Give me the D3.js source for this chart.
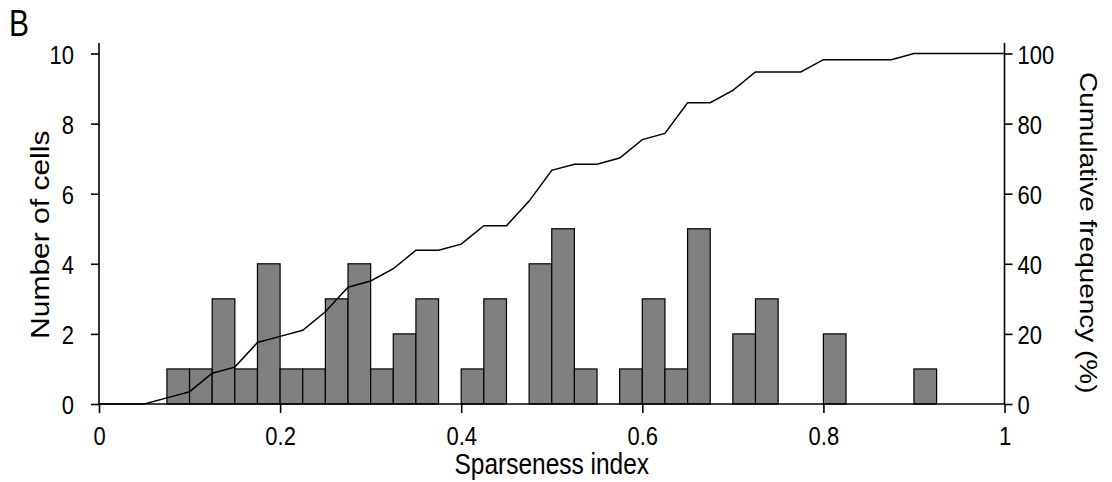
<!DOCTYPE html>
<html>
<head>
<meta charset="utf-8">
<script src="https://cdn.jsdelivr.net/npm/d3@7"></script>
<style>
  html, body { margin: 0; padding: 0; background: #fff; }
  svg { display: block; font-family: "Liberation Sans", Arial, sans-serif; }
</style>
</head>
<body>
<svg id="chart" width="1112" height="482"></svg>
<script>
// Histogram of sparseness index, bins of width 0.025 from 0 to 1
const binStarts = d3.range(0, 40).map(i => +(i * 0.025).toFixed(3));
const counts = [
  0, 0, 0, 1, 1, 3, 1, 4, 1, 1,   // 0.000 - 0.225
  3, 4, 1, 2, 3, 0, 1, 3, 0, 4,   // 0.250 - 0.475
  5, 1, 0, 1, 3, 1, 5, 0, 2, 3,   // 0.500 - 0.725
  0, 0, 2, 0, 0, 0, 1, 0, 0, 0    // 0.750 - 0.975
];
const binWidth = 0.025;
const xTicks = [0, 0.2, 0.4, 0.6, 0.8, 1];
const yLeftTicks = [0, 2, 4, 6, 8, 10];
const yRightTicks = [0, 20, 40, 60, 80, 100];

// cumulative frequency (%) plotted at each bin's left edge
const total = d3.sum(counts);
const cumPct = Array.from(d3.cumsum(counts), c => c / total * 100);
const cumPoints = binStarts.map((b, i) => [b, cumPct[i]]).concat([[1, 100]]);

const svg = d3.select("#chart");
const mLeft = 99, mRight = 1004.5, mTop = 53.5, mBottom = 404;
const stretch = 1.2;   // glyphs are drawn a little taller than wide

const x = d3.scaleLinear().domain([0, 1]).range([mLeft, mRight]);
const yL = d3.scaleLinear().domain([0, 10]).range([mBottom, mTop]);
const yR = d3.scaleLinear().domain([0, 100]).range([mBottom, mTop]);

// bars
svg.append("g").selectAll("rect")
  .data(binStarts)
  .join("rect")
  .attr("x", (d) => x(d))
  .attr("width", x(binWidth) - x(0))
  .attr("y", (d, i) => yL(counts[i]))
  .attr("height", (d, i) => yL(0) - yL(counts[i]))
  .attr("fill", "#808080")
  .attr("stroke", "#000")
  .attr("stroke-width", 1.2);

// cumulative line
svg.append("path")
  .datum(cumPoints)
  .attr("fill", "none")
  .attr("stroke", "#000")
  .attr("stroke-width", 1.5)
  .attr("d", d3.line().x(d => x(d[0])).y(d => yR(d[1])));

const tickFont = 22;

// left axis
const gL = svg.append("g").attr("transform", `translate(${mLeft},0)`)
  .call(d3.axisLeft(yL).tickValues(yLeftTicks).tickSize(8).tickSizeOuter(0).tickFormat(d3.format("d")));
gL.select(".domain").remove();
gL.append("line").attr("x1", 0).attr("x2", 0).attr("y1", 43).attr("y2", mBottom);
gL.selectAll(".tick text")
  .attr("x", null).attr("y", null).attr("dy", null)
  .attr("transform", `translate(-25,9.5) scale(1,${stretch})`);

// right axis
const gR = svg.append("g").attr("transform", `translate(${mRight},0)`)
  .call(d3.axisRight(yR).tickValues(yRightTicks).tickSize(8).tickSizeOuter(0).tickFormat(d3.format("d")));
gR.select(".domain").remove();
gR.append("line").attr("x1", 0).attr("x2", 0).attr("y1", 43).attr("y2", mBottom);
gR.selectAll(".tick text")
  .attr("x", null).attr("y", null).attr("dy", null)
  .attr("transform", `translate(13,9.5) scale(1,${stretch})`);

// bottom axis
const gB = svg.append("g").attr("transform", `translate(0,${mBottom})`)
  .call(d3.axisBottom(x).tickValues(xTicks).tickSize(9).tickSizeOuter(0).tickFormat(d => d3.format("")(d)));
gB.select(".domain").remove();
gB.append("line").attr("x1", mLeft).attr("x2", mRight).attr("y1", 0).attr("y2", 0);
gB.selectAll(".tick text")
  .attr("x", null).attr("y", null).attr("dy", null)
  .attr("transform", `translate(0,41) scale(1,${stretch})`);

[gL, gR, gB].forEach(g => {
  g.selectAll("line").attr("stroke", "#000").attr("stroke-width", 1.6);
  g.selectAll("text").attr("font-size", tickFont).attr("fill", "#000")
    .attr("font-family", "Liberation Sans, Arial, sans-serif");
});

// titles
svg.append("text")
  .attr("transform", `translate(9,36) scale(1,${stretch})`)
  .attr("font-size", 30).text("B");

svg.append("text")
  .attr("transform", `translate(${(mLeft + mRight) / 2},474) scale(1,${stretch})`)
  .attr("text-anchor", "middle").attr("font-size", 24.5)
  .text("Sparseness index");

svg.append("text")
  .attr("transform", `translate(49,${(mTop + mBottom) / 2 + 6}) scale(1,${stretch}) rotate(-90)`)
  .attr("text-anchor", "middle").attr("font-size", 25)
  .text("Number of cells");

svg.append("text")
  .attr("transform", `translate(1080,${(mTop + mBottom) / 2 + 4}) scale(1,${stretch}) rotate(90)`)
  .attr("text-anchor", "middle").attr("font-size", 23.3)
  .text("Cumulative frequency (%)");
</script>
</body>
</html>
